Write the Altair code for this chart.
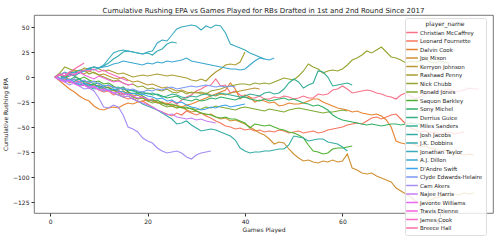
import math
import altair as alt
import pandas as pd

players = [
    "Christian McCaffrey", "Leonard Fournette", "Dalvin Cook", "Joe Mixon",
    "Kerryon Johnson", "Rashaad Penny", "Nick Chubb", "Ronald Jones",
    "Saquon Barkley", "Sony Michel", "Derrius Guice", "Miles Sanders",
    "Josh Jacobs", "J.K. Dobbins", "Jonathan Taylor", "A.J. Dillon",
    "D'Andre Swift", "Clyde Edwards-Helaire", "Cam Akers", "Najee Harris",
    "Javonte Williams", "Travis Etienne", "James Cook", "Breece Hall",
]

mccaffrey = [0, -2, 1, -3, -5, -4, -8, -6, -10, -9,
             -12, -10, -14, -13, -17, -15, -19, -22, -20, -24,
             -22, -26, -25, -28, -24, -27, -23, -20, -18, -14,
             -12, -9, -8, -2, -9, -8, -16, -14, -18, -20,
             -21, -21, -19, -22, -22, -20, -21, -19, -20, -22,
             -21, -19, -21, -21, -17, -18, -17, -13, -12, -9,
             -12, -16, -15, -14, -13, -14, -16, -17, -19, -20,
             -22, -18, -16, -19, -22, -20, -17, -16, -14, -15,
             -13, -12, -15, -14, -13, -11, -12, -12]
fournette = [0, -3, -2, -6, -5, -9, -8, -11, -10, -13,
             -15, -14, -18, -17, -20, -22, -21, -25, -24, -27,
             -30, -33, -35, -37, -39, -36, -38, -34, -36, -38,
             -36, -39, -41, -44, -46, -49, -50, -52, -51, -53,
             -52, -54, -53, -55, -54, -55, -53, -54, -56, -55,
             -54, -56, -55, -54, -56, -55, -53, -52, -51, -50,
             -48, -47, -46, -47, -44, -41, -40, -42, -40, -38,
             -37, -42, -47, -51, -53, -55, -54, -56, -55, -57,
             -56, -55, -57, -56, -55]
cook = [0, -4, -8, -12, -15, -19, -22, -24, -29, -32,
        -33, -31, -30, -31, -28, -26, -27, -25, -24, -23,
        -24, -26, -25, -27, -29, -28, -30, -28, -27, -25,
        -23, -21, -19, -17, -15, -13, -6, -12, -22, -18,
        -20, -25, -23, -24, -26, -25, -29, -28, -26, -27,
        -27, -26, -24, -22, -22, -25, -27, -29, -31, -32,
        -33, -35, -34, -36, -37, -38, -37, -39, -43, -50,
        -64, -66, -67, -66, -68, -70, -69, -71, -72, -74,
        -73, -75, -76, -77, -78, -77, -78]
mixon = [0, 2, -1, -3, -2, -5, -4, -7, -9, -8,
         -11, -10, -13, -15, -14, -17, -19, -18, -21, -23,
         -22, -25, -27, -26, -29, -31, -30, -33, -35, -34,
         -36, -38, -37, -40, -42, -41, -44, -43, -45, -47,
         -50, -53, -56, -58, -62, -67, -65, -66, -72, -77,
         -81, -84, -83, -85, -86, -84, -85, -83, -85, -84,
         -77, -91, -93, -96, -97, -96, -99, -101, -103, -105,
         -111, -114, -117, -120, -124, -127, -125, -123, -121, -120,
         -118, -119, -117, -118, -116, -117, -116]
kerryon = [0, 3, 1, 4, 2, 5, 3, 6, 4, 2,
           3, 1, -1, -2, 0, -3, -5, -4, -6, -8,
           -7, -9, -11, -10, -12, -14, -13, -15, -16, -15,
           -17, -16, -18, -19, -17, -18, -16, -15, -14, -13,
           -12, -11, -12]
penny = [0, -2, 1, 4, 7, 6, 9, 8, 10, 8,
         6, 7, 5, 3, 4, 2, 0, 1, 2, 1,
         2, 3, 2, 1, 2, 1, 0, -1, -3, -4,
         -2, -4, 1, 5, 8, 12, 13, 12, 15, 25]
chubb = [0, 4, 10, 8, 6, 4, 7, 3, 5, 2,
         0, -2, -4, -3, -6, -8, -7, -10, -9, -12,
         -11, -13, -14, -12, -15, -16, -14, -17, -15, -16,
         -15, -17, -14, -13, -12, -10, -9, -8, -7, -7,
         -8, -6, -7, -6, -7, -5, -3, -1, -2, -3,
         1, 6, 13, 10, 8, 4, 6, 7, 6, 8,
         12, 17, 19, 22, 26, 24, 27, 30, 25, 20,
         19, 17, 14, 16, 15, 16, 18, 15, 14, 16,
         15, 14]
rjones = [0, -2, -4, -3, -6, -5, -8, -9, -7, -10,
          -12, -14, -13, -16, -18, -17, -20, -22, -21, -24,
          -26, -25, -28, -30, -29, -31, -30, -32, -31, -33,
          -32, -30, -31, -29, -30, -31, -32, -33, -31, -30,
          -31, -32, -33, -34, -32, -33, -34, -35, -33, -32,
          -31, -32, -33, -34, -35, -36, -35, -35, -34, -33, -34]
barkley = [0, 2, -1, 3, 1, -2, 0, -3, -5, -4,
           -7, -6, -9, -12, -11, -15, -17, -16, -19, -22,
           -24, -23, -26, -28, -27, -29, -31, -30, -32, -34,
           -36, -37, -38, -40, -41, -40, -42, -42, -44, -46,
           -51, -47, -48, -49, -48, -50, -52, -53, -55, -56,
           -58, -61, -68, -74, -75, -77, -76, -72, -71, -71, -70, -69]
michel = [0, -3, -1, -5, -4, -2, -6, -8, -7, -10,
          -9, -11, -13, -12, -10, -14, -13, -15, -17, -16,
          -18, -17, -19, -21, -20, -19, -22, -23, -24, -22,
          -24, -23, -21, -22, -20, -21, -22, -23, -21, -20,
          -22, -23, -24, -22, -24, -23, -22, -21, -23, -22,
          -24, -26, -27, -29, -28, -30, -33, -38, -41, -43,
          -44, -45, -46, -47, -48, -47, -48, -49, -48, -47,
          -47, -48, -47, -46, -47, -47]
guice = [0, 2, -1, 1, 3]
sanders = [0, 2, -1, -3, 0, -2, -5, -4, -7, -6,
           -9, -8, -11, -10, -13, -12, -14, -16, -15, -17,
           -16, -18, -20, -19, -17, -18, -20, -21, -19, -20,
           -18, -17, -19, -18, -16, -17, -18, -19, -20, -19,
           -17, -18, -19, -16, -15, -17, -16, -12, -6, -2,
           -5, -11, -8, -6, 6, 5, 0, -9, -8, -7, -6, -8]
jacobs = [0, -2, -4, -3, -6, -8, -7, -10, -12, -11,
          -14, -13, -16, -18, -20, -19, -22, -24, -27, -29,
          -31, -33, -36, -39, -42, -47, -46, -44, -48, -51,
          -54, -53, -52, -53, -55, -57, -59, -63, -71, -74,
          -76, -75, -75, -74, -74, -73, -72, -72, -68, -59,
          -60, -61, -64, -63, -62, -62, -65, -66, -67, -70, -74]
dobbins = [0, 3, 1, 5, 4, 7, 6, 9, 10, 9,
           11, 14, 18, 21, 25, 26, 25, 24, 23, 24,
           22, 26, 28, 33, 35, 34]
taylor = [0, 2, 5, 3, 1, 4, 6, 8, 10, 9,
          12, 18, 24, 26, 27, 26, 25, 24, 23, 25,
          26, 34, 37, 36, 42, 48, 50, 51, 52, 51,
          47, 51, 49, 52, 51, 44, 33, 31, 29, 27,
          24, 22, 20, 18]
dillon = [0, -2, 1, 3, 5, 4, 6, 8, 7, 9,
          10, 11, 13, 14, 16, 15, 14, 13, 12, 14,
          13, 15, 14, 16, 15, 16, 17, 19, 16, 15,
          14, 13, 12, 11, 10, 9, 8, 8, 7, 8,
          12, 16, 19, 18, 17, 19]
swift = [0, -1, -4, -2, -5, -7, -6, -8, -10, -9,
         -11, -13, -12, -14, -15, -17, -16, -18, -17, -19,
         -20, -22, -21, -24, -23, -26, -25, -28, -30, -31,
         -33, -32, -30, -31, -29, -28, -30, -29, -28, -27]
ceh = [0, -3, -1, -4, -2, -5, -3, -6, -4, -7,
       -9, -8, -10, -12, -11, -13, -12, -14, -15, -13,
       -14, -12, -13, -11, -10, -12, -11, -10, -9, -10,
       -9, -8, -9, -10, -9, -10, -9, -10]
akers = [0, -3, -5, -8, -6, -9, -12, -11, -14, -21,
         -30, -31, -28, -30, -38, -50, -52, -55, -61, -64,
         -66, -71, -74, -76, -75, -74, -76, -80, -82, -78,
         -76, -75, -74]
najee = [0, -2, -4, -3, -6, -5, -8, -10, -9, -12,
         -14, -13, -16, -18, -20, -19, -22, -24, -26, -28,
         -30, -33, -35, -38, -37, -40, -41, -42, -41, -43,
         -42, -44, -45, -46]
javonte = [0, -3, -5, -4, -7, -9, -8, -11, -10, -13,
           -12, -14, -16, -15, -18, -17, -19, -21, -20, -22, -23]
etienne = [0, 2, 4, 1, 3, 5, 2, 0, -2, 1, -1, -3, -5, -4, -6, -8, -7]
jcook = [0, 3, 1, 4, 2, 5, 7, 6, 8, 5, 7, 4, 2, 0, -2, -4]
hall = [0, 2, 1, 5, 8, 11, 14]

series = [mccaffrey, fournette, cook, mixon, kerryon, penny, chubb, rjones,
          barkley, michel, guice, sanders, jacobs, dobbins, taylor, dillon,
          swift, ceh, akers, najee, javonte, etienne, jcook, hall]

x_ticks = [0, 20, 40, 60, 80]
y_ticks = [50, 25, 0, -25, -50, -75, -100, -125]

# ---- seaborn "husl" palette (style only) ----
_M = [[3.2406, -1.5372, -0.4986],
      [-0.9689, 1.8758, 0.0415],
      [0.0557, -0.2040, 1.0570]]
_refU, _refV, _lab_e, _lab_k = 0.19784, 0.46834, 0.008856, 903.3


def _max_chroma(L, H):
    hrad = math.radians(H)
    sinH, cosH = math.sin(hrad), math.cos(hrad)
    sub1 = (L + 16) ** 3 / 1560896.0
    sub2 = sub1 if sub1 > _lab_e else L / _lab_k
    result = float("inf")
    for m1, m2, m3 in _M:
        top = (0.99915 * m1 + 1.05122 * m2 + 1.14460 * m3) * sub2
        rbottom = 0.86330 * m3 - 0.17266 * m2
        lbottom = 0.12949 * m3 - 0.38848 * m1
        bottom = (rbottom * sinH + lbottom * cosH) * sub2
        for t in (0.0, 1.0):
            C = L * (top - 1.05122 * t) / (bottom + 0.17266 * sinH * t)
            if 0 < C < result:
                result = C
    return result


def _husl_to_hex(H, S, L):
    C = _max_chroma(L, H) / 100.0 * S
    hrad = math.radians(H)
    U, V = C * math.cos(hrad), C * math.sin(hrad)
    t = (L + 16) / 116.0
    varY = t ** 3 if t ** 3 > _lab_e else (116 * t - 16) / _lab_k
    varU = U / (13 * L) + _refU
    varV = V / (13 * L) + _refV
    Y = varY
    X = 0 - (9 * Y * varU) / ((varU - 4) * varV - varU * varV)
    Z = (9 * Y - (15 * varV * Y) - (varV * X)) / (3 * varV)
    out = []
    for row in _M:
        c = row[0] * X + row[1] * Y + row[2] * Z
        c = 12.92 * c if c <= 0.0031308 else 1.055 * c ** (1 / 2.4) - 0.055
        c = min(max(c, 0.0), 1.0)
        out.append(int(round(c * 255)))
    return "#%02x%02x%02x" % tuple(out)


n = len(players)
palette = [_husl_to_hex(((i / n) + 0.01) % 1 * 359, 0.9 * 99, 0.65 * 99) for i in range(n)]

rows = []
for name, vals in zip(players, series):
    for g, v in enumerate(vals, start=1):
        rows.append({"player_name": name, "game": g, "epa": v})
df = pd.DataFrame(rows)

FONT = "DejaVu Sans"

chart = alt.Chart(df).mark_line(strokeWidth=1.1, clip=True).encode(
    x=alt.X("game:Q", title="Games Played",
            scale=alt.Scale(domain=[-3.3, 90.9], nice=False, zero=False),
            axis=alt.Axis(values=x_ticks, grid=False, domain=False, tickSize=3,
                          labelPadding=2, titlePadding=2, labelFontSize=6,
                          titleFontSize=6, titleFontWeight="normal",
                          labelColor="#222", titleColor="#222", tickColor="#333")),
    y=alt.Y("epa:Q", title="Cumulative Rushing EPA",
            scale=alt.Scale(domain=[-136, 62], nice=False, zero=False),
            axis=alt.Axis(values=y_ticks, grid=False, domain=False, tickSize=3,
                          labelPadding=2, titlePadding=4, labelFontSize=6,
                          titleFontSize=6, titleFontWeight="normal",
                          labelColor="#222", titleColor="#222", tickColor="#333")),
    color=alt.Color("player_name:N", sort=players,
                    scale=alt.Scale(domain=players, range=palette),
                    legend=alt.Legend(
                        title="player_name", orient="none", legendX=371, legendY=3,
                        symbolType="M-1.8,0H1.8", symbolSize=42, symbolStrokeWidth=1.5,
                        symbolFillColor="transparent",
                        labelFontSize=5.5, titleFontSize=6, titleFontWeight="normal",
                        titleAnchor="middle", labelColor="#222", titleColor="#222",
                        fillColor="rgba(255,255,255,0.8)", strokeColor="#dddddd",
                        padding=3, rowPadding=0.5, labelOffset=4, cornerRadius=2,
                        titlePadding=1.5, labelLimit=200)),
    detail="player_name:N",
).properties(
    width=459, height=198,
    title=alt.TitleParams(
        "Cumulative Rushing EPA vs Games Played for RBs Drafted in 1st and 2nd Round Since 2017",
        fontSize=7, fontWeight="normal", color="#222", anchor="middle", offset=1),
    padding={"left": 34, "top": 15, "right": 7, "bottom": 37},
    autosize=alt.AutoSizeParams(type="none"),
).configure(font=FONT).configure_view(stroke="#555", strokeWidth=0.8)

chart.save("out.html", embed_options={"renderer": "svg", "actions": False})
